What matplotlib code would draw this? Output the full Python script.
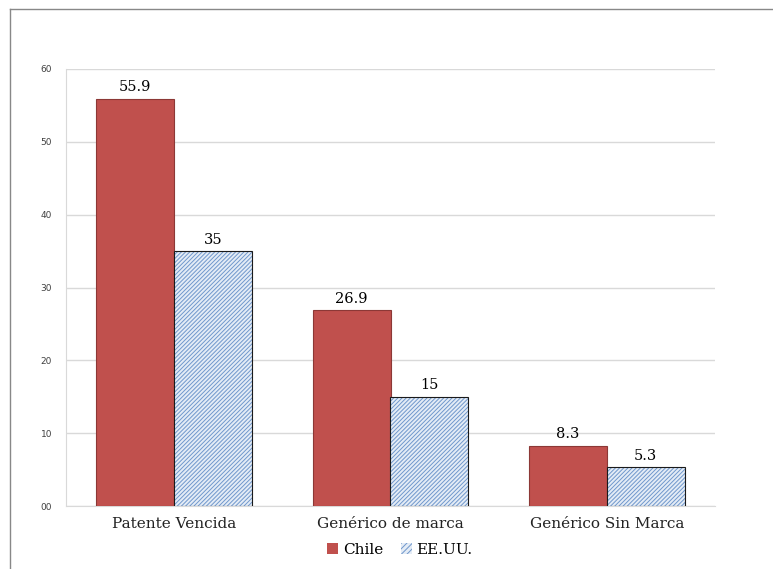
import matplotlib.pyplot as plt
import numpy as np
from matplotlib.lines import Line2D
from matplotlib.patches import Patch

categories = ['Patente Vencida', 'Genérico de marca', 'Genérico Sin Marca']
chile = [55.9, 26.9, 8.3]
eeuu = [35, 15, 5.3]
chile_labels = ['55.9', '26.9', '8.3']
eeuu_labels = ['35', '15', '5.3']
yticks = [0, 10, 20, 30, 40, 50, 60]
ytick_labels = ['00', '10', '20', '30', '40', '50', '60']

plt.rcParams['hatch.linewidth'] = 0.7

fig = plt.figure(figsize=(7.73, 5.69), dpi=100)
ax = fig.add_axes([66/773, 1 - 506/569, (715 - 66)/773, (506 - 69)/569])

x = np.arange(len(categories))
w = 0.36
blue = '#6f97cc'
b1 = ax.bar(x - w/2, chile, w, color='#c0504d', edgecolor='#8c3836', linewidth=0.8, zorder=3)
# hatched fill, then a black outline on top
b2 = ax.bar(x + w/2, eeuu, w, color='#e4ecf6', edgecolor=blue, linewidth=0,
            hatch='////////', zorder=3)
ax.bar(x + w/2, eeuu, w, color='none', edgecolor='#1a1a1a', linewidth=0.8, zorder=4)

serif = 'DejaVu Serif'
for rect, lab in zip(b1, chile_labels):
    ax.text(rect.get_x() + rect.get_width()/2, rect.get_height() + 0.6, lab,
            ha='center', va='bottom', fontsize=10.5, family=serif)
for rect, lab in zip(b2, eeuu_labels):
    ax.text(rect.get_x() + rect.get_width()/2, rect.get_height() + 0.6, lab,
            ha='center', va='bottom', fontsize=10.5, family=serif)

ax.set_xlim(-0.5, 2.5)
ax.set_ylim(0, 60)
ax.set_yticks(yticks)
ax.set_yticklabels(ytick_labels, fontsize=6.5, color='#404040')
ax.set_xticks(x)
ax.set_xticklabels(categories, fontsize=11, family=serif, color='#222222')
ax.tick_params(axis='both', length=0, pad=8)
ax.tick_params(axis='y', pad=10)
ax.grid(axis='y', color='#d9d9d9', linewidth=1, zorder=0)
for s in ['top', 'right']:
    ax.spines[s].set_visible(False)
ax.spines['left'].set_color('#d9d9d9')
ax.spines['bottom'].set_color('#d9d9d9')

h1 = Patch(facecolor='#c0504d', edgecolor='none', label='Chile')
h2 = Patch(facecolor='#e4ecf6', edgecolor=blue, linewidth=0, hatch='//////', label='EE.UU.')
fig.legend(handles=[h1, h2], loc='center', bbox_to_anchor=(400/773, 1 - 550/569),
           ncol=2, frameon=False, prop={'family': serif, 'size': 11},
           handlelength=0.7, handleheight=0.7, handletextpad=0.3, columnspacing=1.2)

# outer frame (top and left)
fig.add_artist(Line2D([10/773, 1], [1 - 9/569, 1 - 9/569], transform=fig.transFigure,
                      color='#888888', linewidth=1))
fig.add_artist(Line2D([10/773, 10/773], [0, 1 - 9/569], transform=fig.transFigure,
                      color='#888888', linewidth=1))

fig.savefig('out.png', dpi=100)
